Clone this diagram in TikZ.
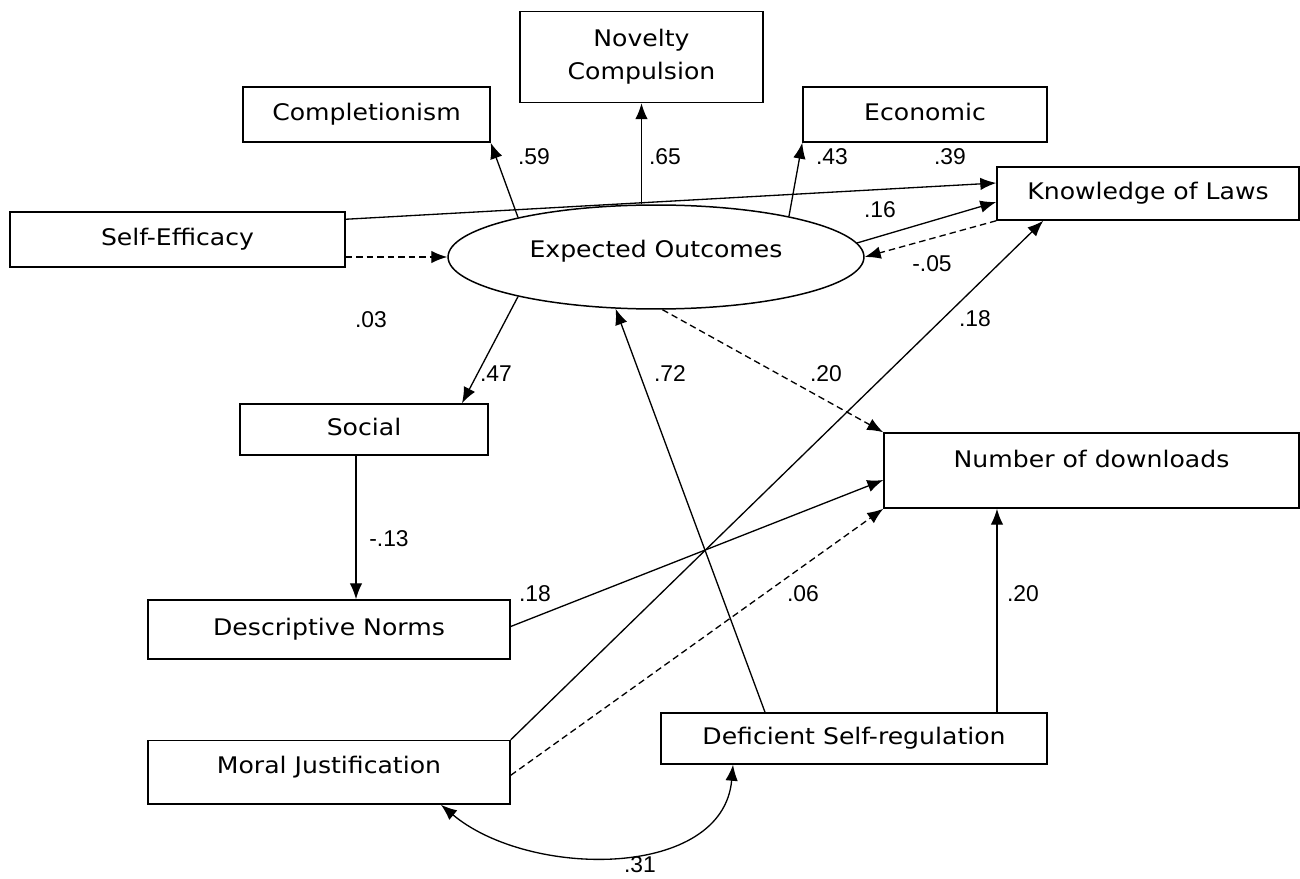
\documentclass[tikz,border=0pt]{standalone}
\usepackage{fontspec}
\setmainfont{DejaVu Sans}
\newfontfamily\boxfont[FakeStretch=1.1]{DejaVu Sans}
\newfontfamily\numfont{Liberation Sans}
\usetikzlibrary{arrows.meta,shapes.geometric}

\tikzset{
  var/.style={draw, line width=0.85pt, inner sep=0pt, font=\boxfont\fontsize{13}{19}\selectfont},
  var1/.style={var, text height=0.35cm, text depth=0.11cm},
  lat/.style={var1, ellipse},
  coef/.style={font=\numfont\fontsize{13}{15}\selectfont, inner sep=0pt},
  eff/.style={line width=0.75pt, -{Latex[length=0.32cm,width=0.25cm]}},
  effd/.style={eff, dash pattern=on 0.13cm off 0.08cm},
  cov/.style={line width=0.75pt, {Latex[length=0.32cm,width=0.25cm]}-{Latex[length=0.32cm,width=0.25cm]}}
}

\begin{document}
\begin{tikzpicture}[x=0.02cm, y=-0.02cm]
    \useasboundingbox (0,0) rectangle (1300,878);

    % outcome expectancies
    \node[var, align=center, minimum width=4.86cm, minimum height=1.82cm] (novel) at (641.5,57) {Novelty\\Compulsion};
    \node[var1, minimum width=4.94cm, minimum height=1.10cm] (compl) at (366.5,114.5) {Completionism};
    \node[var1, minimum width=4.88cm, minimum height=1.10cm] (econ) at (925,114.5) {Economic};
    \node[var1, minimum width=4.96cm, minimum height=1.02cm] (social) at (364,429.5) {Social};
    \node[lat, minimum width=8.32cm, minimum height=2.08cm, text depth=0.35cm] (expout) at (656,257) {Expected Outcomes};

    % other variables
    \node[var1, minimum width=6.04cm, minimum height=1.06cm] (know) at (1148,193.5) {Knowledge of Laws};
    \node[var1, minimum width=6.70cm, minimum height=1.10cm] (selfeff) at (177.5,239.5) {Self-Efficacy};
    \node[var1, minimum width=8.30cm, minimum height=1.50cm, text depth=0.49cm] (ndown) at (1091.5,470.5) {Number of downloads};
    \node[var1, minimum width=7.24cm, minimum height=1.18cm] (descn) at (329,629.5) {Descriptive Norms};
    \node[var1, minimum width=7.24cm, minimum height=1.27cm, text depth=0.31cm] (moral) at (329,772.3) {Moral Justification};
    \node[var1, minimum width=7.72cm, minimum height=1.02cm] (defsr) at (854,738.5) {Deficient Self-regulation};

    % paths
    \draw[eff] (expout.164) -- (compl.south east);
    \draw[eff] (expout.north -| novel.south) -- (novel.south);
    \draw[eff] (expout.17) -- (econ.south west);
    \draw[eff] ([yshift=-0.16cm]selfeff.north east) -- ([yshift=0.21cm]know.west);
    \draw[eff] (expout.4) -- ([yshift=-0.17cm]know.west);
    \draw[effd] (know.south west) -- (expout.east);
    \draw[effd] (selfeff.east |- expout.west) -- (expout.west);
    \draw[eff] (expout.196) -- ([xshift=1.96cm]social.north);
    \draw[effd] (expout.-83) -- (ndown.north west);
    \draw[eff] ([xshift=-0.16cm]social.south) -- ([xshift=-0.16cm]social.south |- descn.north);
    \draw[eff] ([yshift=0.06cm]descn.east) -- ([yshift=-0.19cm]ndown.west);
    \draw[eff] (moral.north east) -- ([xshift=0.94cm]know.south west);
    \draw[effd] ([yshift=-0.06cm]moral.east) -- (ndown.south west);
    \draw[eff] ([xshift=-1.78cm]defsr.north) -- (expout.232);
    \draw[eff] ([xshift=2.86cm]defsr.north) -- ([xshift=2.86cm]defsr.north |- ndown.south);
    \draw[cov] ([xshift=2.24cm]moral.south) to[out=-40, in=-95] ([xshift=-2.42cm]defsr.south);

    % coefficients
    \node[coef] (c59) at (534,157) {.59};
    \node[coef] (c65) at (665,157) {.65};
    \node[coef] (c43) at (832,157) {.43};
    \node[coef] (c39) at (950,157) {.39};
    \node[coef] (c16) at (880,210) {.16};
    \node[coef] (c05) at (932,264) {-.05};
    \node[coef] (c03) at (371,320) {.03};
    \node[coef] (c18a) at (975,319) {.18};
    \node[coef] (c47) at (496,374) {.47};
    \node[coef] (c72) at (670,374) {.72};
    \node[coef] (c20a) at (826,374) {.20};
    \node[coef] (c13) at (389,539) {-.13};
    \node[coef] (c18b) at (535,594) {.18};
    \node[coef] (c06) at (803,594) {.06};
    \node[coef] (c20b) at (1023,594) {.20};
    \node[coef] (c31) at (640,865) {.31};
\end{tikzpicture}
\end{document}
